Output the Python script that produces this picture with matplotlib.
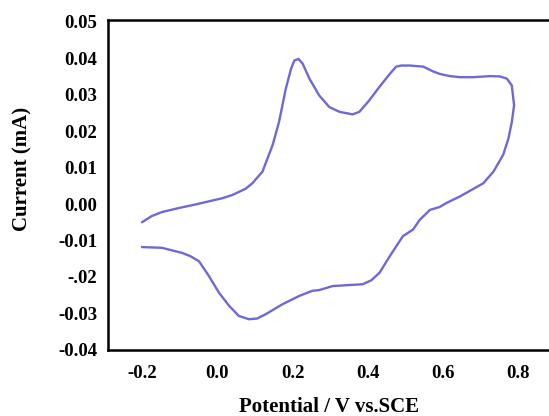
import matplotlib
matplotlib.use("Agg")
from matplotlib import pyplot as plt

# anodic sweep, -0.2 V -> 0.79 V
v_fwd = [-0.201, -0.175, -0.148, -0.103, -0.058, 0.013, 0.040, 0.075, 0.093, 0.120,
         0.147, 0.164, 0.182, 0.196, 0.205, 0.216, 0.227, 0.245, 0.271, 0.298,
         0.325, 0.360, 0.378, 0.404, 0.431, 0.459, 0.476, 0.490, 0.512, 0.548,
         0.574, 0.592, 0.619, 0.646, 0.681, 0.726, 0.753, 0.771, 0.784, 0.790]
i_fwd = [-0.0050, -0.0033, -0.0022, -0.0011, -0.0001, 0.0016, 0.0025, 0.0042, 0.0057, 0.0089,
         0.0162, 0.0225, 0.0316, 0.0371, 0.0394, 0.0398, 0.0385, 0.0344, 0.0298, 0.0266,
         0.0253, 0.0246, 0.0253, 0.0284, 0.0321, 0.0357, 0.0377, 0.0380, 0.0380, 0.0377,
         0.0364, 0.0357, 0.0351, 0.0348, 0.0348, 0.0351, 0.0350, 0.0344, 0.0325, 0.0271]

# cathodic sweep back to -0.2 V
v_rev = [0.784, 0.775, 0.761, 0.735, 0.708, 0.677, 0.646, 0.610, 0.592, 0.566,
         0.539, 0.521, 0.494, 0.459, 0.432, 0.410, 0.387, 0.338, 0.307, 0.271,
         0.253, 0.218, 0.173, 0.129, 0.106, 0.084, 0.057, 0.031, 0.004, -0.023,
         -0.049, -0.072, -0.094, -0.148, -0.201]
i_rev = [0.0225, 0.0180, 0.0135, 0.0089, 0.0057, 0.0039, 0.0021, 0.0003, -0.0008, -0.0016,
         -0.0043, -0.0070, -0.0088, -0.0143, -0.0188, -0.0209, -0.0220, -0.0223, -0.0225, -0.0236,
         -0.0238, -0.0252, -0.0275, -0.0302, -0.0314, -0.0316, -0.0307, -0.0279, -0.0243, -0.0197,
         -0.0157, -0.0143, -0.0134, -0.0120, -0.0118]

x_ticks = [-0.2, 0.0, 0.2, 0.4, 0.6, 0.8]
x_labels = ["-0.2", "0.0", "0.2", "0.4", "0.6", "0.8"]
y_ticks = [-0.04, -0.03, -0.02, -0.01, 0.0, 0.01, 0.02, 0.03, 0.04, 0.05]
y_labels = ["-0.04", "-0.03", "-.02", "-0.01", "0.00", "0.01", "0.02", "0.03", "0.04", "0.05"]

plt.rcParams["font.family"] = ["Liberation Serif", "DejaVu Serif"]
plt.rcParams["font.weight"] = "bold"

fig = plt.figure(figsize=(5.49, 4.16), dpi=100)
ax = fig.add_axes([0.197, 0.159, 0.803, 0.793])

ax.plot(v_fwd + v_rev, i_fwd + i_rev, color="#6e68d8", lw=1.7,
        solid_capstyle="round", solid_joinstyle="round")

ax.set_xlim(-0.291, 0.883)
ax.set_ylim(-0.04, 0.0505)
ax.set_xticks(x_ticks)
ax.set_xticklabels(x_labels)
ax.set_yticks(y_ticks)
ax.set_yticklabels(y_labels)
ax.tick_params(length=0, labelsize=13.5)
ax.tick_params(axis="y", pad=8)
ax.tick_params(axis="x", pad=11)

ax.spines["right"].set_visible(False)
for s in ("left", "bottom", "top"):
    ax.spines[s].set_linewidth(1.8)

ax.set_xlabel("Potential / V vs.SCE", fontsize=15, fontweight="bold", labelpad=11)
ax.set_ylabel("Current (mA)", fontsize=15, fontweight="bold")
ax.yaxis.set_label_coords(-0.172, 0.548)

plt.savefig("out.png", dpi=100)
